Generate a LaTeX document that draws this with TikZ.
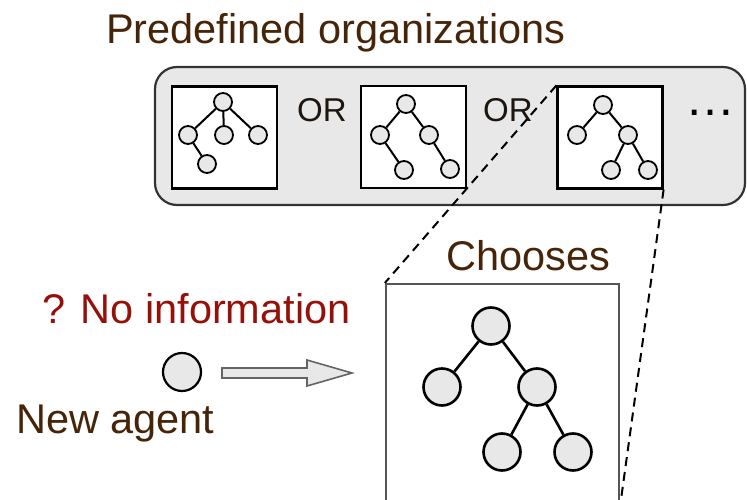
\documentclass[tikz,border=0pt]{standalone}
\usepackage{fontspec}
\setmainfont{Liberation Sans}
\usetikzlibrary{calc}
\definecolor{txtbrown}{RGB}{70,36,8}
\definecolor{txtred}{RGB}{150,16,10}
\definecolor{ortxt}{RGB}{30,22,14}
\definecolor{panelgray}{RGB}{232,232,232}
\definecolor{nodegray}{RGB}{232,232,232}
\definecolor{bigline}{RGB}{85,85,85}
\definecolor{arrline}{RGB}{100,100,100}
\begin{document}
\begin{tikzpicture}[x=1pt,y=-1pt,
  sn/.style={circle, draw=black, fill=nodegray, line width=1.8pt, minimum size=18pt, inner sep=0pt},
  bn/.style={circle, draw=black, fill=nodegray, line width=2.6pt, minimum size=37pt, inner sep=0pt},
  sedge/.style={line width=2pt},
  bedge/.style={line width=2.6pt},
  orgbox/.style={draw=black, fill=white, line width=2.2pt, minimum width=105pt, minimum height=102pt, inner sep=0pt},
  lbl/.style={font=\fontsize{41.5}{50}\selectfont, text=txtbrown, inner sep=0pt, anchor=base west},
  orlbl/.style={font=\fontsize{33}{40}\selectfont, text=ortxt, inner sep=0pt, anchor=base west},
  zoomline/.style={dash pattern=on 9pt off 6pt, line width=2pt},
  arrowshape/.style={draw=arrline, fill=nodegray, line width=1.6pt, line join=miter}
]
\useasboundingbox (0,0) rectangle (747,500);
\clip (0,0) rectangle (747,500);

% panel
\node[draw=black!80, fill=panelgray, rounded corners=22pt, line width=2.2pt,
      minimum width=590pt, minimum height=138pt, inner sep=0pt] (panel) at (450,136) {};

% boxes
\node[orgbox] (b1) at (224.5,137.5) {};
\node[orgbox] (b2) at (413.5,137) {};
\node[orgbox] (b3) at (610,137.5) {};

% tree 1
\node[sn] (a1r) at (223,102) {};
\node[sn] (a1a) at (188,135) {};
\node[sn] (a1b) at (224,135) {};
\node[sn] (a1c) at (258,135) {};
\node[sn] (a1d) at (207,164) {};
\draw[sedge] (a1r) -- (a1a);
\draw[sedge] (a1r) -- (a1b);
\draw[sedge] (a1r) -- (a1c);
\draw[sedge] (a1a) -- (a1d);

% tree 2
\node[sn] (b2r) at (406,104) {};
\node[sn] (b2a) at (380,135) {};
\node[sn] (b2b) at (429,135) {};
\node[sn] (b2c) at (404,170) {};
\node[sn] (b2d) at (450,169) {};
\draw[sedge] (b2r) -- (b2a);
\draw[sedge] (b2r) -- (b2b);
\draw[sedge] (b2a) -- (b2c);
\draw[sedge] (b2b) -- (b2d);

% tree 3
\node[sn] (c3r) at (603,105) {};
\node[sn] (c3a) at (577,135) {};
\node[sn] (c3b) at (628,135) {};
\node[sn] (c3c) at (611,170) {};
\node[sn] (c3d) at (648,170) {};
\draw[sedge] (c3r) -- (c3a);
\draw[sedge] (c3r) -- (c3b);
\draw[sedge] (c3b) -- (c3c);
\draw[sedge] (c3b) -- (c3d);

% OR labels and dots
\node[orlbl] (or1) at (297,122) {OR};
\node[orlbl] (or2) at (483,122) {OR};
\node[font=\fontsize{50}{60}\selectfont, text=black, inner sep=0pt, anchor=base] (dots) at (710,116) {…};

% big box
\node[draw=bigline, fill=white, line width=2.2pt, minimum width=233pt, minimum height=221pt, inner sep=0pt] (big) at (502.5,394.5) {};
\node[bn] (Br) at (491,326) {};
\node[bn] (Ba) at (442,387) {};
\node[bn] (Bb) at (537,387) {};
\node[bn] (Bc) at (502,452) {};
\node[bn] (Bd) at (573,452) {};
\draw[bedge] (Br) -- (Ba);
\draw[bedge] (Br) -- (Bb);
\draw[bedge] (Bb) -- (Bc);
\draw[bedge] (Bb) -- (Bd);

% zoom lines
\draw[zoomline] (b3.north west) -- (big.north west);
\draw[zoomline] (b3.south east) -- (big.south east);

% texts
\node[lbl] (title) at (106,44) {Predefined organizations};
\node[lbl] (chooses) at (446,270) {Chooses};
\node[lbl, text=txtred] (noinfo) at (42,323) {? No information};
\node[lbl] (newagent) at (16,433) {New agent};

% new agent and arrow
\node[bn, line width=2.2pt, minimum size=38pt] (agent) at (182,372) {};
\coordinate (arrS) at (222,373);
\coordinate (arrT) at (352,373);
\draw[arrowshape] ($(arrS)+(0,-5)$) -- (307,368) -- (307,360) -- (arrT) -- (307,386) -- (307,378) -- ($(arrS)+(0,5)$) -- cycle;
\end{tikzpicture}
\end{document}
